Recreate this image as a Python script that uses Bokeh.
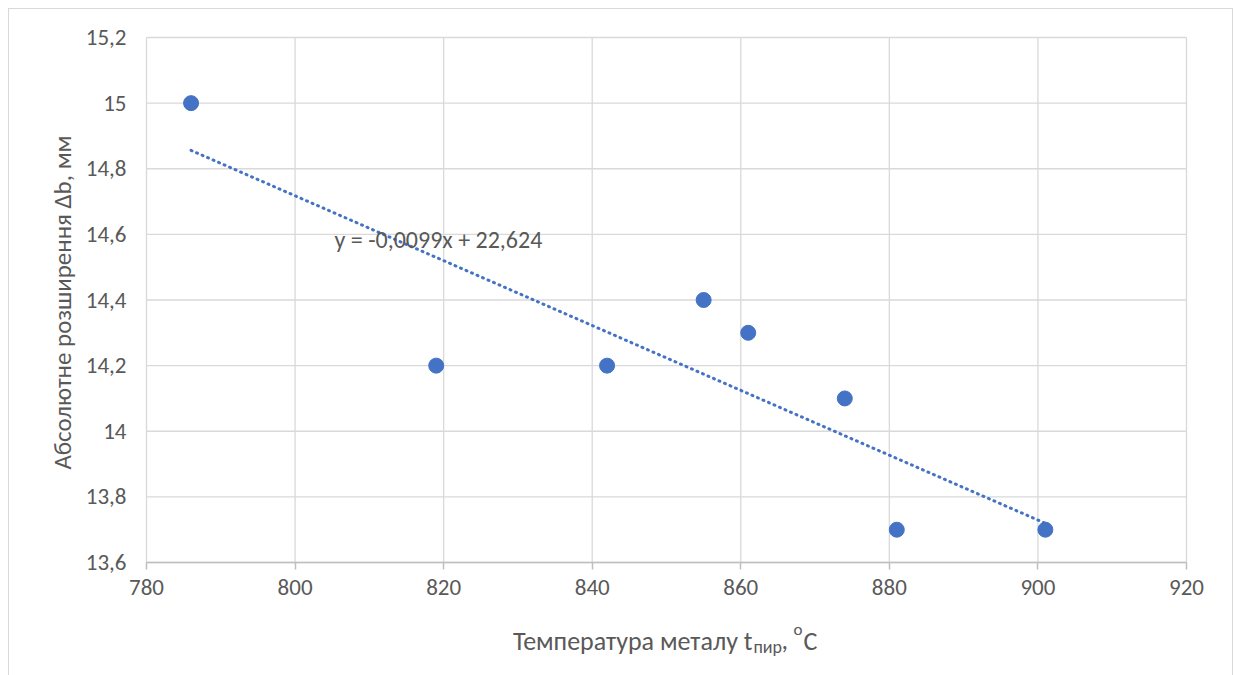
import math
import numpy as np
from bokeh.plotting import figure
from bokeh.models import (Range1d, FixedTicker, CustomJSTickFormatter, Label,
                          ColumnDataSource, LinearAxis)
from bokeh.embed import file_html
from bokeh.resources import INLINE

# ---- data ----
temperature = [786, 819, 842, 855, 861, 874, 881, 901]
widening = [15.0, 14.2, 14.2, 14.4, 14.3, 14.1, 13.7, 13.7]
x_ticks = [780, 800, 820, 840, 860, 880, 900, 920]
y_ticks = [13.6, 13.8, 14.0, 14.2, 14.4, 14.6, 14.8, 15.0, 15.2]
x_title_main = "Температура металу t"
x_title_sub = "пир"
x_title_tail = ","
x_title_sup = "o"
x_title_unit = "C"
y_title = "Абсолютне розширення Δb, мм"
equation = "y = -0,0099x + 22,624"

FONT = "Carlito, Lato"
TXT = "#595959"
BLUE = "#4472C4"
GRID = "#D9D9D9"

W, H = 1234, 675
XMIN, XMAX = x_ticks[0], x_ticks[-1]
YMIN, YMAX = y_ticks[0], y_ticks[-1]

# plot-area geometry in page pixels; the frame covers the whole canvas
FL, FR, FT, FB = 146, 1186, 37, 562
sx = (XMAX - XMIN) / (FR - FL)
sy = (YMAX - YMIN) / (FB - FT)
def px_x(px):
    return XMIN + (px - FL) * sx
def px_y(py):
    return YMIN + (FB - py) * sy

x_range = Range1d(px_x(0), px_x(W))
y_range = Range1d(px_y(H), px_y(0))

border_css = (
    f"linear-gradient({GRID},{GRID}) 8px 8px/1px {H}px no-repeat, "
    f"linear-gradient({GRID},{GRID}) 8px 8px/{W - 9}px 1px no-repeat, "
    f"linear-gradient({GRID},{GRID}) {W - 2}px 8px/1px {H}px no-repeat, #FFFFFF"
)

p = figure(width=W, height=H, output_backend="svg", toolbar_location=None,
           x_range=x_range, y_range=y_range,
           x_axis_location=None, y_axis_location=None,
           min_border=0, min_border_left=0, min_border_right=0,
           min_border_top=0, min_border_bottom=0)
p.styles = {"background": border_css}
p.outline_line_color = None
p.background_fill_color = None
p.border_fill_color = None
for g in p.grid:
    g.visible = False

# grid lines (plot area only)
p.segment(x0=x_ticks, x1=x_ticks, y0=[YMIN] * len(x_ticks), y1=[YMAX] * len(x_ticks),
          line_color=GRID, line_width=1.3)
p.segment(x0=[XMIN] * len(y_ticks), x1=[XMAX] * len(y_ticks), y0=y_ticks, y1=y_ticks,
          line_color=GRID, line_width=1.3)

# axes anchored at the plot-area edges
xaxis = LinearAxis(fixed_location=YMIN, bounds=(XMIN, XMAX), ticker=FixedTicker(ticks=x_ticks))
xaxis.axis_line_color = "#BFBFBF"
xaxis.axis_line_width = 1.5
xaxis.major_tick_line_color = "#BFBFBF"
xaxis.major_tick_line_width = 1.5
xaxis.major_tick_out = 7
xaxis.major_tick_in = 0
xaxis.major_label_standoff = 10

yaxis = LinearAxis(fixed_location=XMIN, bounds=(YMIN, YMAX), ticker=FixedTicker(ticks=y_ticks))
yaxis.formatter = CustomJSTickFormatter(code="return String(parseFloat(tick.toFixed(1))).replace('.', ',');")
yaxis.axis_line_color = None
yaxis.major_tick_line_color = None
yaxis.major_tick_out = 0
yaxis.major_tick_in = 0
yaxis.major_label_standoff = 20

for ax in (xaxis, yaxis):
    ax.major_label_text_font = FONT
    ax.major_label_text_font_size = "23px"
    ax.major_label_text_color = TXT
    ax.minor_tick_line_color = None
p.add_layout(xaxis, "below")
p.add_layout(yaxis, "left")

# linear trendline (least squares over the data points)
slope, intercept = np.polyfit(temperature, widening, 1)
tx = [min(temperature), max(temperature)]
ty = [slope * v + intercept for v in tx]
p.line(tx, ty, line_color=BLUE, line_width=3, line_dash="1 5", line_cap="round")

# points
src = ColumnDataSource(dict(x=temperature, y=widening))
p.scatter("x", "y", source=src, size=15, fill_color=BLUE, line_color=BLUE)

def lab(px, py, text, size, align="left", baseline="alphabetic", angle=0.0):
    p.add_layout(Label(x=px_x(px), y=px_y(py), text=text, text_font=FONT,
                       text_font_size=size, text_color=TXT, text_align=align,
                       text_baseline=baseline, angle=angle))

# equation
lab(334, 239, equation, "24px")

# y axis title
lab(62, 302, y_title, "25px", "center", "middle", math.pi / 2)

# x axis title with subscript / superscript
lab(752, 640, x_title_main, "26px", "right")
lab(753, 646, x_title_sub, "18px")
lab(781, 640, x_title_tail, "26px")
lab(793, 629, x_title_sup, "17px")
lab(803, 640, x_title_unit, "26px")

open("out.html", "w").write(file_html(p, INLINE))
